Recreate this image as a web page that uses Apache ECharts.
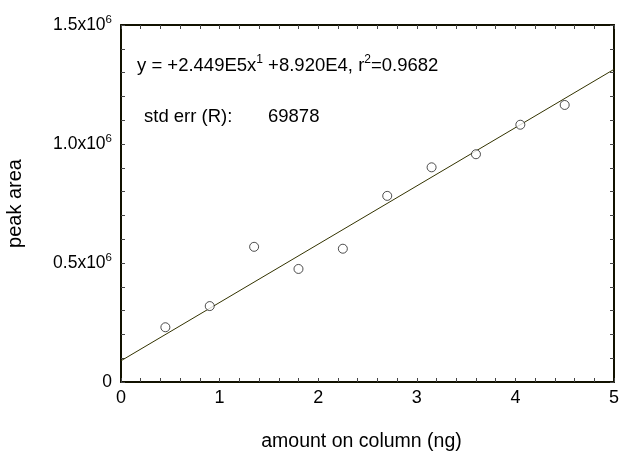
<!DOCTYPE html>
<html>
<head>
<meta charset="utf-8">
<script src="https://cdn.jsdelivr.net/npm/echarts@6/dist/echarts.min.js"></script>
<style>html,body{margin:0;padding:0;background:#fff}#c{width:621px;height:464px}</style>
</head>
<body>
<div id="c"></div>
<script>
var amounts = [0.45, 0.9, 1.35, 1.8, 2.25, 2.7, 3.15, 3.6, 4.05, 4.5];
var peakAreas = [230000, 319000, 568000, 475000, 560000, 782000, 902000, 957000, 1081000, 1164000];
var fitX = [0, 5];
var fitY = [89200, 1313700];
var yTickValues = [0, 500000, 1000000, 1500000];
var yTickMantissa = ['0', '0.5x10', '1.0x10', '1.5x10'];
var yTickExp = ['', '6', '6', '6'];
var xTickLabels = ['0', '1', '2', '3', '4', '5'];
var eqText = ['y = +2.449E5x', '1', ' +8.920E4, r', '2', '=0.9682'];
var stdErrLabel = 'std err (R):';
var stdErrValue = '69878';

var FONT = '"Liberation Sans", Arial, sans-serif';
var AX = '#111100';
var chart = echarts.init(document.getElementById('c'), null, {renderer: 'canvas'});

function yFmt(v) {
  var i = yTickValues.indexOf(v);
  if (i < 0) return '';
  if (!yTickExp[i]) return '{a|' + yTickMantissa[i] + '}';
  return '{a|' + yTickMantissa[i] + '}{s|' + yTickExp[i] + '}';
}
var tickStyle = {show: true, inside: true, length: 4, lineStyle: {color: '#444', width: 1}};
var minorStyle = {show: true, splitNumber: 5, length: 4, lineStyle: {color: '#444', width: 1}};

var lineData = fitX.map(function (x, i) { return [x, fitY[i]]; });
var ptData = amounts.map(function (x, i) { return [x, peakAreas[i]]; });

chart.setOption({
  animation: false,
  backgroundColor: '#fff',
  grid: {left: 121, right: 7, top: 25, bottom: 82, containLabel: false, outerBoundsMode: 'none'},
  xAxis: [{
    type: 'value', min: 0, max: 5, interval: 1,
    name: 'amount on column (ng)', nameLocation: 'middle', nameGap: 50,
    nameTextStyle: {fontFamily: FONT, fontSize: 19.5, color: '#000', padding: [0, 12, 0, 0]},
    axisLine: {show: true, onZero: false, lineStyle: {color: AX, width: 2}},
    axisTick: tickStyle, minorTick: minorStyle,
    splitLine: {show: false},
    axisLabel: {fontFamily: FONT, fontSize: 18, color: '#000', margin: 7,
      formatter: function (v) { return xTickLabels[Math.round(v)]; }}
  }, {
    type: 'value', min: 0, max: 5, interval: 1, position: 'top',
    axisLine: {show: true, onZero: false, lineStyle: {color: AX, width: 2}},
    axisTick: tickStyle, minorTick: minorStyle,
    splitLine: {show: false}, axisLabel: {show: false}
  }],
  yAxis: [{
    type: 'value', min: 0, max: 1500000, interval: 500000,
    name: 'peak area', nameLocation: 'middle', nameGap: 96, nameRotate: 90,
    nameTextStyle: {fontFamily: FONT, fontSize: 20, color: '#000'},
    axisLine: {show: true, onZero: false, lineStyle: {color: AX, width: 2}},
    axisTick: tickStyle, minorTick: minorStyle,
    splitLine: {show: false},
    axisLabel: {margin: 9, formatter: yFmt, color: '#000',
      rich: {
        a: {fontFamily: FONT, fontSize: 17.5, color: '#000'},
        s: {fontFamily: FONT, fontSize: 11.5, color: '#000', padding: [0, 0, 11, 0]}
      }}
  }, {
    type: 'value', min: 0, max: 1500000, interval: 500000, position: 'right',
    axisLine: {show: true, onZero: false, lineStyle: {color: AX, width: 2}},
    axisTick: tickStyle, minorTick: minorStyle,
    splitLine: {show: false}, axisLabel: {show: false}
  }],
  graphic: [{
    type: 'text', left: 137, top: 54,
    style: {
      text: '{a|' + eqText[0] + '}{s|' + eqText[1] + '}{a|' + eqText[2] + '}{s|' + eqText[3] + '}{a|' + eqText[4] + '}',
      rich: {
        a: {fontFamily: FONT, fontSize: 18.5, fill: '#000'},
        s: {fontFamily: FONT, fontSize: 12, fill: '#000', padding: [0, 0, 11, 0]}
      }
    }
  }, {
    type: 'text', left: 144, top: 107,
    style: {text: stdErrLabel, fontFamily: FONT, fontSize: 18.5, fill: '#000'}
  }, {
    type: 'text', left: 268, top: 107,
    style: {text: stdErrValue, fontFamily: FONT, fontSize: 18.5, fill: '#000'}
  }],
  series: [{
    type: 'line', data: lineData, symbol: 'none',
    lineStyle: {color: '#333300', width: 1}, silent: true, z: 2
  }, {
    type: 'scatter', data: ptData, symbol: 'circle', symbolSize: 9,
    itemStyle: {color: '#fff', borderColor: '#222', borderWidth: 1}, z: 3
  }]
});
</script>
</body>
</html>
